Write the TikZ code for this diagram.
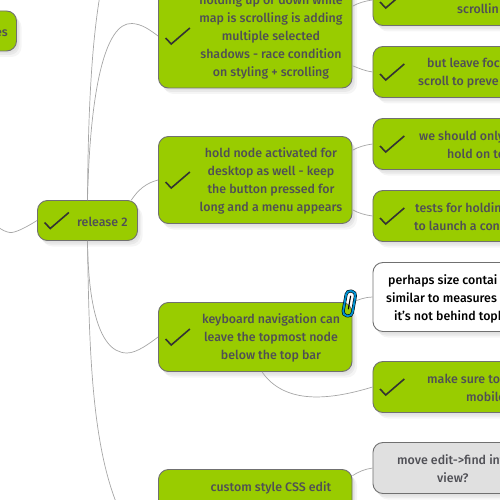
\documentclass[tikz,border=0pt]{standalone}
\usepackage{fontspec}
\setmainfont{Fira Sans}[BoldFont={Fira Sans Medium}]
\usetikzlibrary{shadows}
\definecolor{cardgreen}{HTML}{99CC00}
\definecolor{cardgrey}{HTML}{E0E0E0}
\definecolor{cardedge}{HTML}{707070}
\definecolor{cardink}{HTML}{4F4F55}
\definecolor{clipblue}{HTML}{0090D0}
\tikzset{
  softshadow/.style={drop shadow={opacity=.08,shadow xshift=2pt,shadow yshift=-2pt},
    drop shadow={opacity=.10,shadow xshift=3pt,shadow yshift=-4pt},
    drop shadow={opacity=.08,shadow xshift=5pt,shadow yshift=-6pt}},
  card/.style={draw=cardedge,line width=.9pt,rounded corners=10pt,inner sep=0pt,softshadow},
  donecard/.style={card,fill=cardgreen},
  todocard/.style={card,fill=cardgrey},
  notecard/.style={card,fill=white},
  cardtext/.style={font=\fontsize{12.4}{18}\selectfont\bfseries,text=cardink,align=center,inner sep=0pt},
  link/.style={draw=gray!70,line width=.7pt},
  tick/.pic={\draw[line width=1.6pt,draw=black!80] (7.5,2) -- (13.2,8) -- (31.8,-8);},
}
\begin{document}
\begin{tikzpicture}[x=1pt,y=-1pt]
  \useasboundingbox (0,0) rectangle (500,500);
  \clip (0,0) rectangle (500,500);
  % centre column
  \node[donecard,minimum width=193.5pt,minimum height=104pt] (scroll) at (255.25,36) {};
  \node[donecard,minimum width=193.5pt,minimum height=87pt] (hold) at (255.25,180) {};
  \node[donecard,minimum width=193.5pt,minimum height=69pt] (keys) at (255.25,337) {};
  \node[donecard,minimum width=193.5pt,minimum height=87pt] (style) at (255.25,513) {};
  \node[donecard,minimum width=100pt,minimum height=40pt] (release) at (87.5,220.5) {};
  \node[donecard,minimum width=60pt,minimum height=40pt] (prev) at (-13.5,31) {};
  % right column
  \foreach \nm/\cy in {focusa/0,focusb/72,onlyhold/144,testhold/216,mobile/387}
    \node[donecard,minimum width=200pt,minimum height=51pt,anchor=west] (\nm) at (372.5,\cy) {};
  \node[notecard,minimum width=200pt,minimum height=69pt,anchor=west] (size) at (372.5,297) {};
  \node[todocard,minimum width=200pt,minimum height=51pt,anchor=west] (find) at (372.5,468) {};
  % ticks
  \foreach \nm in {scroll,hold,keys,style,release,focusa,focusb,onlyhold,testhold,mobile}
    \pic at (\nm.west) {tick};
  % links
  \coordinate (topend) at (99.5,-2);
  \coordinate (lowend) at (116,502);
  \coordinate (leftend) at (-2,227);
  \draw[link] (release.north) .. controls (88,120) and (91,50) .. (topend);
  \draw[link] (release.north) .. controls (90,90) and (105,22) .. (132,23.5) .. controls (142,24) and (150,30) .. (scroll.west);
  \draw[link] (release.25) .. controls (138,190) and (146,183) .. (hold.west);
  \draw[link] (release.south) .. controls (88,290) and (95,353) .. (127,353) .. controls (137,353) and (150,343) .. (keys.west);
  \draw[link] (release.south) .. controls (89,350) and (92,440) .. (lowend);
  \draw[link] (release.west) .. controls (25,228) and (15,233) .. (10,232.5) .. controls (6,232) and (2,230) .. (leftend);
  \draw[link] (scroll.17) .. controls (358,3) and (365,1) .. (focusa.west);
  \draw[link] (scroll.-17) .. controls (358,68) and (365,71) .. (focusb.west);
  \draw[link] (hold.17) .. controls (358,147) and (365,145) .. (onlyhold.west);
  \draw[link] (hold.-17) .. controls (358,213) and (365,215) .. (testhold.west);
  \draw[link] (keys.north east) .. controls (358,300) and (365,297) .. (size.west);
  \draw[link] (keys.-79) .. controls (285,405) and (330,400) .. (mobile.west);
  \draw[link] (style.21) .. controls (358,472) and (365,469) .. (find.west);
  % texts
  \node[cardtext] (scrolltxt) at (271,37) {holding up or down while\\map is scrolling is adding\\multiple selected\\shadows - race condition\\on styling + scrolling};
  \node[cardtext] (holdtxt) at (271,181) {hold node activated for\\desktop as well - keep\\the button pressed for\\long and a menu appears};
  \node[cardtext] (keystxt) at (271,338) {keyboard navigation can\\leave the topmost node\\below the top bar};
  \node[cardtext,anchor=base] (styletxt) at (271,491) {custom style CSS edit};
  \node[cardtext,anchor=base west] (releasetxt) at (77,226) {release 2};
  \node[cardtext,anchor=base east] (prevtxt) at (8,37) {es};
  \foreach \nm/\px/\py/\txt in {a/457/14/scrollin,b/427/68/but leave foc,c/418/86/scroll to preve,
    d/419/140/we should only,e/447/158/hold on to,f/415/212/tests for holdin,g/414/230/to launch a con,
    j/427/383/make sure to,k/466/401/mobile}
    \node[cardtext,anchor=base west] (line\nm) at (\px,\py) {\txt};
  \foreach \nm/\px/\py/\txt in {a/388/284/perhaps size contai,b/386/302/similar to measures,c/394/320/it's not behind topb}
    \node[cardtext,anchor=base west,text=black] (note\nm) at (\px,\py) {\txt};
  \foreach \nm/\px/\py/\txt in {a/397/464/move edit->find int,b/437/482/view?}
    \node[cardtext,anchor=base west] (find\nm) at (\px,\py) {\txt};
  % paper clip
  \draw[black,line width=3pt,rotate around={-10:(349.3,303.5)},rounded corners=4pt] (344.6,291) rectangle (354,316);
  \draw[clipblue,line width=1.9pt,rotate around={-10:(349.3,303.5)},rounded corners=4pt] (344.6,291) rectangle (354,316);
  \draw[black,line width=1.1pt,rotate around={-10:(349.3,303.5)},line cap=round] (349.3,296) -- (349.3,309);
\end{tikzpicture}
\end{document}
